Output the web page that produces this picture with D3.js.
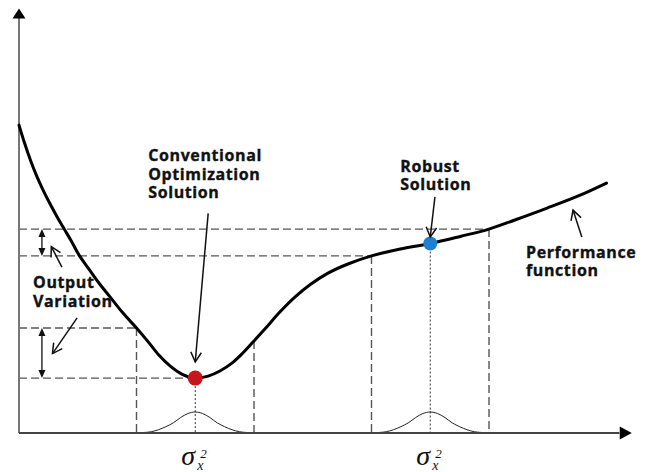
<!DOCTYPE html>
<html>
<head>
<meta charset="utf-8">
<script src="https://cdn.jsdelivr.net/npm/d3@7"></script>
<style>
  html, body { margin: 0; padding: 0; background: #fff; }
  svg { display: block; }
  .lbl { font-family: "Open Sans", "DejaVu Sans", sans-serif; font-weight: 700; font-size: 16px; letter-spacing: 0.6px; fill: #111; stroke: #111; stroke-width: 0.35px; }
  .sig { font-family: "Liberation Serif", "DejaVu Serif", serif; font-style: italic; fill: #111; }
</style>
</head>
<body>
<script>
// Performance function sampled along the design variable
const curveX = [0, 0.1, 0.2, 0.3, 0.41, 0.53, 0.65, 0.77, 0.89, 1.02, 1.19, 1.36, 1.55, 1.77, 2.0, 2.2, 2.38, 2.57, 2.77, 3.0, 3.22, 3.42, 3.63, 3.81, 4.0, 4.2, 4.44, 4.7, 4.97, 5.26, 5.6, 6.0, 6.49, 7.0, 7.51, 8.0, 8.44, 8.99, 9.52, 10.0];
const curveY = [12.17, 11.42, 10.75, 10.16, 9.60, 9.05, 8.54, 8.06, 7.59, 7.04, 6.48, 5.93, 5.38, 4.74, 4.15, 3.60, 3.08, 2.65, 2.33, 2.17, 2.25, 2.45, 2.77, 3.16, 3.64, 4.15, 4.78, 5.38, 5.89, 6.32, 6.68, 7.00, 7.27, 7.49, 7.77, 8.06, 8.42, 8.89, 9.37, 9.88];

// Design points: conventional optimum and robust optimum, with input spread
const solutionNames = ["conventional", "robust"];
const solutionX = [3, 7];
const solutionColors = ["#c8141c", "#1f7fd3"];
const spread = 1;

// Input distribution shape (offset from the design point, density height)
const bumpDx = [-1, -0.875, -0.75, -0.625, -0.5, -0.375, -0.25, -0.125, 0, 0.125, 0.25, 0.375, 0.5, 0.625, 0.75, 0.875, 1];
const bumpH  = [0, 0.02, 0.05, 0.13, 0.25, 0.40, 0.61, 0.77, 0.83, 0.77, 0.61, 0.40, 0.25, 0.13, 0.05, 0.02, 0];

// Text labels
const convLabel = ["Conventional", "Optimization", "Solution"];
const robustLabel = ["Robust", "Solution"];
const perfLabel = ["Performance", "function"];
const varLabel = ["Output", "Variation"];

const W = 650, H = 472;
const svg = d3.select("body").append("svg").attr("width", W).attr("height", H);

const x = d3.scaleLinear().domain([0, 10]).range([19, 606.5]);
const y = d3.scaleLinear().domain([0, 10]).range([433, 180]);

function curveAt(v) {
  const i = d3.bisectLeft(curveX, v);
  if (curveX[i] === v) return curveY[i];
  const x0 = curveX[i - 1], x1 = curveX[i];
  return curveY[i - 1] + (curveY[i] - curveY[i - 1]) * (v - x0) / (x1 - x0);
}

const dashed = "8,4";
const gray = "#555";

// Filled triangle arrow head at (tx,ty) pointing along angle ang
function triHead(g, tx, ty, ang, len, half, fill) {
  const bx = tx - len * Math.cos(ang), by = ty - len * Math.sin(ang);
  const px = -Math.sin(ang) * half, py = Math.cos(ang) * half;
  g.append("path")
    .attr("d", `M${tx},${ty}L${bx + px},${by + py}L${bx - px},${by - py}Z`)
    .attr("fill", fill);
}

// Line with an open V head at the end point
function openArrow(g, x1, y1, x2, y2, head) {
  g.append("line").attr("x1", x1).attr("y1", y1).attr("x2", x2).attr("y2", y2)
    .attr("stroke", "#111").attr("stroke-width", 1.5);
  const ang = Math.atan2(y2 - y1, x2 - x1);
  const a = 0.5, L = head || 11;
  const p1 = [x2 - L * Math.cos(ang - a), y2 - L * Math.sin(ang - a)];
  const p2 = [x2 - L * Math.cos(ang + a), y2 - L * Math.sin(ang + a)];
  g.append("path").attr("d", `M${p1}L${x2},${y2}L${p2}`)
    .attr("fill", "none").attr("stroke", "#111").attr("stroke-width", 1.5);
}

const gGuides = svg.append("g");
const gAxes = svg.append("g");
const gMarks = svg.append("g");

// Guide lines for each design point
solutionX.forEach((cx, i) => {
  const pts = [cx - spread, cx, cx + spread].map(v => ({ v, f: curveAt(v) }));
  const hi = pts.reduce((a, b) => (b.f > a.f ? b : a));
  const lo = pts.reduce((a, b) => (b.f < a.f ? b : a));

  // horizontal projections of the output extremes onto the vertical axis
  [hi, lo].forEach(p => {
    gGuides.append("line")
      .attr("x1", x(0)).attr("x2", x(p.v))
      .attr("y1", y(p.f)).attr("y2", y(p.f))
      .attr("stroke", gray).attr("stroke-width", 1.4).attr("stroke-dasharray", dashed);
  });

  // vertical bounds of the input spread
  [cx - spread, cx + spread].forEach(v => {
    gGuides.append("line")
      .attr("x1", x(v)).attr("x2", x(v))
      .attr("y1", y(curveAt(v))).attr("y2", y(0))
      .attr("stroke", gray).attr("stroke-width", 1.4).attr("stroke-dasharray", dashed);
  });

  // dotted line from the design point to the axis
  gGuides.append("line")
    .attr("x1", x(cx)).attr("x2", x(cx))
    .attr("y1", y(curveAt(cx))).attr("y2", y(0))
    .attr("stroke", "#333").attr("stroke-width", 1).attr("stroke-dasharray", "2,2");

  // input distribution
  const bump = d3.line()
    .x((d, k) => x(cx + bumpDx[k]))
    .y((d, k) => y(bumpH[k]))
    .curve(d3.curveCatmullRom.alpha(0.5));
  gGuides.append("path").datum(bumpDx).attr("d", bump)
    .attr("fill", "none").attr("stroke", "#222").attr("stroke-width", 1);

  // output variation double arrow
  const ax = x(0.39);
  gMarks.append("line").attr("x1", ax).attr("x2", ax)
    .attr("y1", y(hi.f) + 5).attr("y2", y(lo.f) - 5)
    .attr("stroke", "#111").attr("stroke-width", 1.3);
  triHead(gMarks, ax, y(hi.f), -Math.PI / 2, 8, 3.5, "#111");
  triHead(gMarks, ax, y(lo.f), Math.PI / 2, 8, 3.5, "#111");

  // sigma label under the axis
  const sx = x(cx);
  const t = svg.append("g");
  t.append("text").attr("class", "sig").attr("x", sx - 14).attr("y", 465)
    .attr("font-size", 28).text("σ");
  t.append("text").attr("class", "sig").attr("x", sx + 5).attr("y", 458)
    .attr("font-size", 13).attr("font-style", "normal").text("2");
  t.append("text").attr("class", "sig").attr("x", sx + 2).attr("y", 470)
    .attr("font-size", 14).text("x");
});

// Axes
gAxes.append("line").attr("x1", x(0)).attr("x2", x(0))
  .attr("y1", y(0)).attr("y2", y(16.4))
  .attr("stroke", "#777").attr("stroke-width", 2);
triHead(gAxes, x(0), y(16.78), -Math.PI / 2, 10, 6.5, "#000");
gAxes.append("line").attr("x1", x(0)).attr("x2", x(10.22))
  .attr("y1", y(0)).attr("y2", y(0))
  .attr("stroke", "#444").attr("stroke-width", 1.8);
triHead(gAxes, x(10.43), y(0), 0, 12, 6.5, "#000");

// Performance function
const line = d3.line()
  .x((d, i) => x(curveX[i]))
  .y((d, i) => y(curveY[i]))
  .curve(d3.curveCatmullRom.alpha(0.5));
gMarks.append("path").datum(curveX).attr("d", line)
  .attr("fill", "none").attr("stroke", "#000").attr("stroke-width", 3)
  .attr("stroke-linecap", "round");

// Design point markers
solutionX.forEach((cx, i) => {
  gMarks.append("circle").attr("cx", x(cx)).attr("cy", y(curveAt(cx)))
    .attr("r", i === 0 ? 7.5 : 7).attr("fill", solutionColors[i]);
});

// Annotation arrows
openArrow(gMarks, x(3.22), y(8.68), x(3.0), y(2.81));
openArrow(gMarks, x(7.08), y(9.33), x(7.0), y(7.75));
openArrow(gMarks, x(9.58), y(7.75), x(9.43), y(8.81));
openArrow(gMarks, x(0.73), y(6.56), x(0.55), y(7.37));
openArrow(gMarks, x(0.99), y(4.55), x(0.57), y(3.14));

// Text labels
function block(lines, lx, ly, lh) {
  const t = svg.append("text").attr("class", "lbl");
  lines.forEach((s, k) => {
    t.append("tspan").attr("x", lx).attr("y", ly + k * lh).text(s);
  });
}
block(convLabel, x(2.2), y(10.75), 18.5);
block(robustLabel, x(6.49), y(10.32), 18.5);
block(perfLabel, x(8.63), y(6.92), 18.5);
block(varLabel, x(0.24), y(5.73), 19);
</script>
</body>
</html>
